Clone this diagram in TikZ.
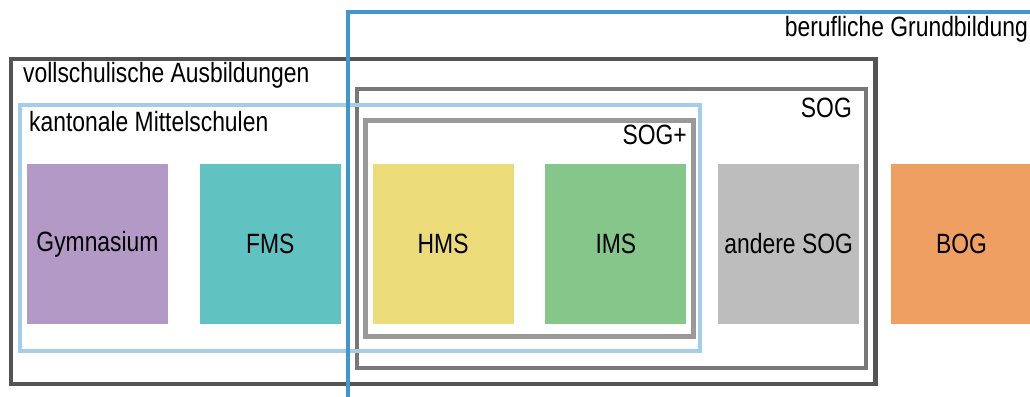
\documentclass[tikz,border=0pt]{standalone}
\usepackage{fontspec}
\setmainfont{Liberation Sans}[FakeStretch=0.82]
\usetikzlibrary{positioning}

\definecolor{gymcol}{HTML}{B399C5}
\definecolor{fmscol}{HTML}{61C2C2}
\definecolor{hmscol}{HTML}{EBDC79}
\definecolor{imscol}{HTML}{85C78A}
\definecolor{sogcol}{HTML}{BDBDBD}
\definecolor{bogcol}{HTML}{F09F63}
\definecolor{bgblue}{HTML}{3F97CD}
\definecolor{kmblue}{HTML}{A3CDE8}

\tikzset{
	schoolbox/.style={minimum width=141, minimum height=160, inner sep=0, draw=none},
	frame/.style={line width=4.5, fill=none},
	lbl/.style={inner sep=0, font=\fontsize{27.9}{30}\selectfont},
}

\begin{document}
\begin{tikzpicture}[x=1pt, y=-1pt]
	\useasboundingbox (0,0) rectangle (1030,396);
	\def\off{172.8}
	\def\X{97.5}
	\def\Y{244}

	% colored schools
	\foreach \nm/\txt/\col [count=\i from 0] in {gym/Gymnasium/gymcol, fms/FMS/fmscol, hms/HMS/hmscol, ims/IMS/imscol, sog/andere SOG/sogcol, bog/BOG/bogcol} {
		\node[schoolbox, fill=\col] (\nm) at (\X+\i*\off,\Y) {};
		\node[lbl] (\nm-t) at (\nm) {\txt};
	}

	% frames
	\draw[frame, draw=black!67]	(11,59) rectangle (875.5,384);
	\draw[frame, draw=black!53]	(357,89) rectangle (866,368);
	\draw[frame, draw=black!40]	(365.5,120.5) rectangle (693.5,336.5);
	\draw[frame, draw=kmblue]	(20,105) rectangle (700,351);
	\draw[frame, draw=bgblue]	(348,400) |- (1040,12);

	% frame titles
	\node[lbl, anchor=base west] (vs) at (23,82) {vollschulische Ausbildungen};
	\node[lbl, anchor=base west] (km) at (29,131) {kantonale Mittelschulen};
	\node[lbl, anchor=base east] (bg) at (1028,37) {berufliche Grundbildung};
	\node[lbl, anchor=base east] (sg) at (852,117) {SOG};
	\node[lbl, anchor=base east] (sp) at (687,144) {SOG+};
\end{tikzpicture}
\end{document}
